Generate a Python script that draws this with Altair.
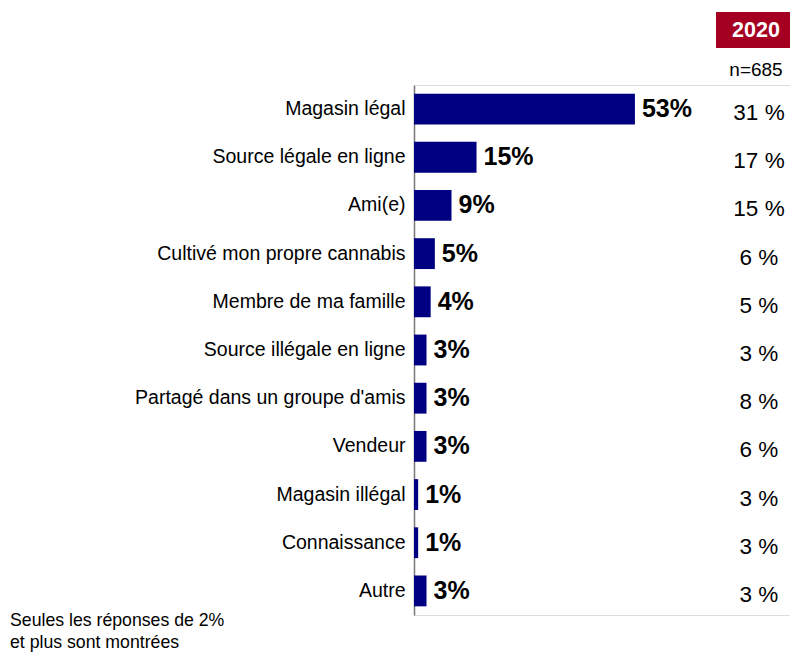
import altair as alt
import pandas as pd

categories = ["Magasin légal", "Source légale en ligne", "Ami(e)", "Cultivé mon propre cannabis",
              "Membre de ma famille", "Source illégale en ligne", "Partagé dans un groupe d'amis",
              "Vendeur", "Magasin illégal", "Connaissance", "Autre"]
values_current = [53, 15, 9, 5, 4, 3, 3, 3, 1, 1, 3]
values_2020 = [31, 17, 15, 6, 5, 3, 8, 6, 3, 3, 3]
year_label = "2020"
n_label = "n=685"
footnote = ["Seules les réponses de 2%", "et plus sont montrées"]

FONT = "Liberation Sans"

df = pd.DataFrame({
    "cat": categories,
    "val": values_current,
    "lab": [f"{v}%" for v in values_current],
    "prev": [f"{v} %" for v in values_2020],
})

W, H = 376, 530
y = alt.Y("cat:N", sort=categories,
          scale=alt.Scale(paddingInner=0.36, paddingOuter=0.18),
          axis=alt.Axis(title=None, ticks=False, labelPadding=9, labelFontSize=19.5,
                        labelColor="black", labelFont=FONT, domainColor="#777777",
                        domainWidth=1.5, labelLimit=400))
x = alt.X("val:Q", scale=alt.Scale(domain=[0, 90.2], nice=False), axis=None)

base = alt.Chart(df)
bars = base.mark_bar(color="#000080").encode(x=x, y=y)
labels = base.mark_text(align="left", baseline="middle", dx=7, fontSize=25,
                        fontWeight="bold", font=FONT, color="black").encode(x=x, y=y, text="lab:N")
prev = base.mark_text(align="center", baseline="middle", dy=4, fontSize=22.5,
                      font=FONT, color="black").encode(x=alt.value(345), y=y, text="prev:N")

hdr = pd.DataFrame({"year": [year_label], "n": [n_label]})
box = alt.Chart(hdr).mark_rect(color="#A50021").encode(
    x=alt.value(302), x2=alt.value(376), y=alt.value(-73), y2=alt.value(-37))
year_txt = alt.Chart(hdr).mark_text(align="center", baseline="middle", fontSize=21.5,
                                    fontWeight="bold", font=FONT, color="white").encode(
    x=alt.value(342), y=alt.value(-54), text="year:N")
n_txt = alt.Chart(hdr).mark_text(align="center", baseline="middle", fontSize=19,
                                 font=FONT, color="black").encode(
    x=alt.value(342), y=alt.value(-15), text="n:N")

fn_txt = alt.Chart(hdr).mark_text(align="left", baseline="middle", fontSize=17.7,
                                  lineHeight=22, font=FONT, color="black").encode(
    x=alt.value(-404), y=alt.value(536), text=alt.value(footnote))

chart = alt.layer(bars, labels, prev, box, year_txt, n_txt, fn_txt).properties(
    width=W, height=H,
    autosize=alt.AutoSizeParams(type="none"),
    padding={"left": 406, "top": 77, "right": 0, "bottom": 38},
).configure_view(stroke=None).configure(font=FONT)

chart.save("out.html", embed_options={"renderer": "svg", "actions": False})
